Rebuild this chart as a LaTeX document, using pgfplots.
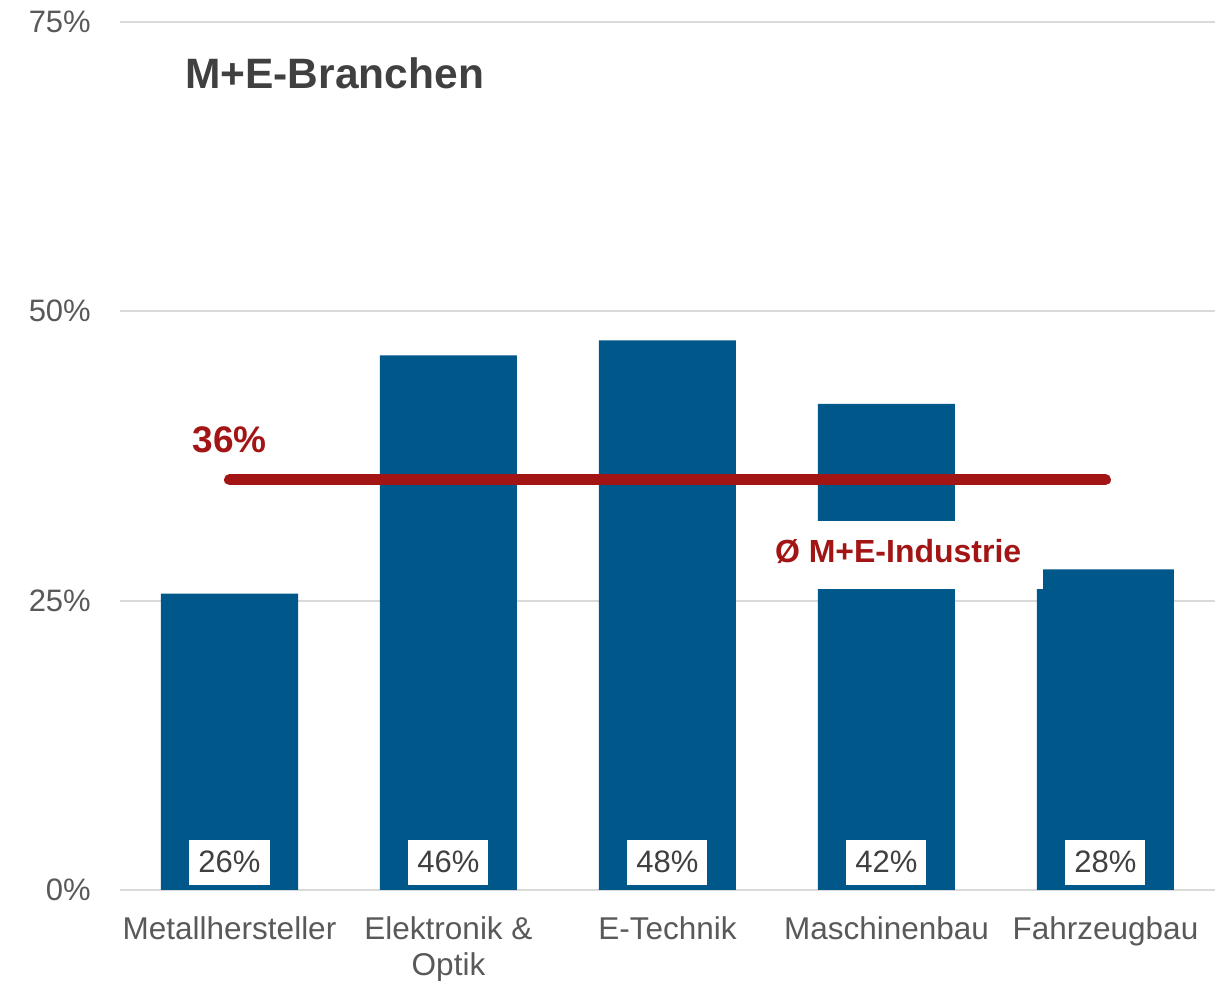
\documentclass[border=0pt]{standalone}
\usepackage{fontspec}
\setmainfont{Liberation Sans}
\usepackage{pgfplots}
\pgfplotsset{compat=1.18}
\definecolor{barblue}{HTML}{00578A}
\definecolor{avgred}{HTML}{A31515}
\definecolor{ticktext}{HTML}{595959}
\definecolor{darktext}{HTML}{404040}
\definecolor{gridgray}{HTML}{D9D9D9}
\begin{document}
\begin{tikzpicture}[x=1pt,y=1pt]
\useasboundingbox (0,0) rectangle (1222,981);
\begin{axis}[
  at={(120pt,91pt)}, anchor=south west,
  scale only axis, width=1095pt, height=868pt,
  xmin=-0.5, xmax=4.5, ymin=0, ymax=75,
  axis line style={draw=none},
  tick style={draw=none},
  ytick={0,25,50,75},
  yticklabels={0\%,25\%,50\%,75\%},
  ymajorgrids, grid style={gridgray, line width=2pt},
  xtick={0,1,2,3,4},
  xticklabels={Metallhersteller,{Elektronik \&\\Optik},E-Technik,Maschinenbau,Fahrzeugbau},
  xticklabel style={align=center, anchor=north, yshift=-26pt, text=ticktext, inner sep=0pt, font=\fontsize{31.5}{36}\selectfont},
  yticklabel style={anchor=east, inner sep=0pt, xshift=-29pt, text=ticktext, font=\fontsize{31}{36}\selectfont},
  clip=false,
]
\addplot[ybar, bar width=137pt, fill=barblue, draw=none] coordinates {
  (0,25.6) (1,46.2) (2,47.5) (3,42.0) (4,27.7)};
\addplot[avgred, line width=11pt, line cap=round] coordinates {(0,35.45) (4,35.45)};
\node[fill=white, minimum width=289pt, minimum height=68pt, inner sep=0pt] at (axis cs:3.054,28.95) {};
\node[anchor=base west, inner sep=0pt, text=avgred, font=\fontsize{32}{36}\selectfont\bfseries] at (axis cs:2.49,28.34) {Ø M+E-Industrie};
\node[anchor=base, inner sep=0pt, text=avgred, font=\fontsize{37}{40}\selectfont\bfseries] at (axis cs:0,37.76) {36\%};
\addplot[draw=none, mark=none, nodes near coords, point meta=explicit symbolic,
  every node near coord/.style={anchor=center, fill=white, text=darktext, inner sep=0pt,
    minimum width=80pt, minimum height=45pt, font=\fontsize{31}{36}\selectfont}]
  coordinates {(0,2.4) [26\%] (1,2.4) [46\%] (2,2.4) [48\%] (3,2.4) [42\%] (4,2.4) [28\%]};
\node[anchor=base west, inner sep=0pt, text=darktext, font=\fontsize{42.5}{44}\selectfont\bfseries] at (rel axis cs:0.0594,0.9228) {M+E-Branchen};
\end{axis}
\end{tikzpicture}
\end{document}
